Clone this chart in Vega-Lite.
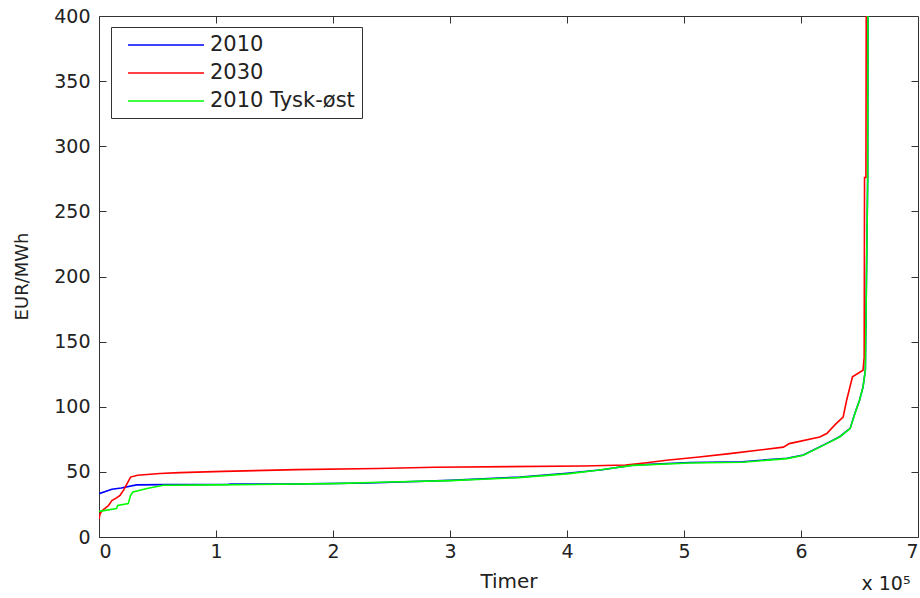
{
  "$schema": "https://vega.github.io/schema/vega-lite/v6.json",
  "width": 819,
  "height": 521,
  "autosize": {"type": "none"},
  "padding": {"left": 99, "top": 16, "right": 2, "bottom": 61},
  "background": "white",
  "config": {
    "font": "DejaVu Sans",
    "view": {"stroke": "#333333", "strokeWidth": 1},
    "axis": {
      "grid": false,
      "domain": false,
      "tickSize": -7,
      "tickColor": "#333333",
      "tickWidth": 1,
      "labelFont": "DejaVu Sans",
      "labelFontSize": 19,
      "labelColor": "#222222",
      "titleFont": "DejaVu Sans",
      "titleFontWeight": "normal",
      "titleColor": "#222222"
    }
  },
  "data": {
    "values": [
      {"series": "2010", "x": 0, "y": 33.3},
      {"series": "2010", "x": 11000, "y": 36.6},
      {"series": "2010", "x": 19000, "y": 37.6},
      {"series": "2010", "x": 32000, "y": 40.0},
      {"series": "2010", "x": 56000, "y": 40.2},
      {"series": "2010", "x": 110000, "y": 40.3},
      {"series": "2010", "x": 112000, "y": 40.7},
      {"series": "2010", "x": 157000, "y": 40.7},
      {"series": "2010", "x": 160000, "y": 40.6},
      {"series": "2010", "x": 230000, "y": 41.5},
      {"series": "2010", "x": 300000, "y": 43.5},
      {"series": "2010", "x": 360000, "y": 46.0},
      {"series": "2010", "x": 400000, "y": 49.0},
      {"series": "2010", "x": 430000, "y": 51.6},
      {"series": "2010", "x": 456000, "y": 55.2},
      {"series": "2010", "x": 505000, "y": 57.2},
      {"series": "2010", "x": 550000, "y": 57.8},
      {"series": "2010", "x": 588000, "y": 60.5},
      {"series": "2010", "x": 602000, "y": 63.0},
      {"series": "2010", "x": 622000, "y": 71.9},
      {"series": "2010", "x": 633000, "y": 77.0},
      {"series": "2010", "x": 642000, "y": 83.4},
      {"series": "2010", "x": 646000, "y": 94.8},
      {"series": "2010", "x": 650000, "y": 105},
      {"series": "2010", "x": 653000, "y": 115},
      {"series": "2010", "x": 655000, "y": 128},
      {"series": "2010", "x": 657000, "y": 276},
      {"series": "2010", "x": 657300, "y": 420},
      {"series": "2030", "x": 0, "y": 14},
      {"series": "2030", "x": 1000, "y": 18},
      {"series": "2030", "x": 3000, "y": 20.5},
      {"series": "2030", "x": 8000, "y": 24},
      {"series": "2030", "x": 11000, "y": 28},
      {"series": "2030", "x": 15000, "y": 30},
      {"series": "2030", "x": 18000, "y": 32},
      {"series": "2030", "x": 21000, "y": 36},
      {"series": "2030", "x": 24000, "y": 41},
      {"series": "2030", "x": 27000, "y": 46},
      {"series": "2030", "x": 33000, "y": 47.4},
      {"series": "2030", "x": 52000, "y": 48.7},
      {"series": "2030", "x": 69000, "y": 49.4},
      {"series": "2030", "x": 106000, "y": 50.4},
      {"series": "2030", "x": 169000, "y": 51.7},
      {"series": "2030", "x": 238000, "y": 52.6},
      {"series": "2030", "x": 287000, "y": 53.5},
      {"series": "2030", "x": 414000, "y": 54.5},
      {"series": "2030", "x": 450000, "y": 55.3},
      {"series": "2030", "x": 468000, "y": 57},
      {"series": "2030", "x": 485000, "y": 58.9},
      {"series": "2030", "x": 513000, "y": 61.4},
      {"series": "2030", "x": 539000, "y": 64},
      {"series": "2030", "x": 585000, "y": 69},
      {"series": "2030", "x": 590000, "y": 71.7},
      {"series": "2030", "x": 616000, "y": 76.8},
      {"series": "2030", "x": 622000, "y": 79.4},
      {"series": "2030", "x": 630000, "y": 87},
      {"series": "2030", "x": 636000, "y": 92},
      {"series": "2030", "x": 639000, "y": 105},
      {"series": "2030", "x": 644000, "y": 123},
      {"series": "2030", "x": 653000, "y": 128},
      {"series": "2030", "x": 654000, "y": 138},
      {"series": "2030", "x": 654300, "y": 276},
      {"series": "2030", "x": 655500, "y": 276},
      {"series": "2030", "x": 655800, "y": 420},
      {"series": "2010 Tysk-øst", "x": 0, "y": 19.7},
      {"series": "2010 Tysk-øst", "x": 15000, "y": 21.8},
      {"series": "2010 Tysk-øst", "x": 16000, "y": 24.3},
      {"series": "2010 Tysk-øst", "x": 25000, "y": 25.6},
      {"series": "2010 Tysk-øst", "x": 27000, "y": 32},
      {"series": "2010 Tysk-øst", "x": 29000, "y": 34.5},
      {"series": "2010 Tysk-øst", "x": 41000, "y": 37.2},
      {"series": "2010 Tysk-øst", "x": 55000, "y": 39.7},
      {"series": "2010 Tysk-øst", "x": 100000, "y": 40.0},
      {"series": "2010 Tysk-øst", "x": 200000, "y": 41.0},
      {"series": "2010 Tysk-øst", "x": 240000, "y": 42.0},
      {"series": "2010 Tysk-øst", "x": 300000, "y": 43.3},
      {"series": "2010 Tysk-øst", "x": 358000, "y": 45.6},
      {"series": "2010 Tysk-øst", "x": 400000, "y": 48.5},
      {"series": "2010 Tysk-øst", "x": 426000, "y": 51.2},
      {"series": "2010 Tysk-øst", "x": 456000, "y": 55.0},
      {"series": "2010 Tysk-øst", "x": 505000, "y": 56.8},
      {"series": "2010 Tysk-øst", "x": 550000, "y": 57.4},
      {"series": "2010 Tysk-øst", "x": 588000, "y": 60.2},
      {"series": "2010 Tysk-øst", "x": 602000, "y": 62.7},
      {"series": "2010 Tysk-øst", "x": 622000, "y": 71.7},
      {"series": "2010 Tysk-øst", "x": 633000, "y": 76.8},
      {"series": "2010 Tysk-øst", "x": 642000, "y": 83.2},
      {"series": "2010 Tysk-øst", "x": 646000, "y": 94.7},
      {"series": "2010 Tysk-øst", "x": 650000, "y": 105},
      {"series": "2010 Tysk-øst", "x": 653000, "y": 115},
      {"series": "2010 Tysk-øst", "x": 655000, "y": 128},
      {"series": "2010 Tysk-øst", "x": 657000, "y": 276},
      {"series": "2010 Tysk-øst", "x": 657300, "y": 420}
    ]
  },
  "resolve": {"axis": {"x": "independent", "y": "independent"}},
  "layer": [
    {
      "transform": [{"filter": "datum.series === '2010'"}],
      "mark": {"type": "line", "strokeWidth": 1.6, "clip": true},
      "encoding": {
        "x": {
          "field": "x", "type": "quantitative",
          "scale": {"domain": [0, 700000], "nice": false, "zero": false},
          "axis": {
            "orient": "bottom",
            "values": [0, 100000, 200000, 300000, 400000, 500000, 600000, 700000],
            "labelExpr": "datum.value / 100000",
            "labelPadding": 12,
            "title": "Timer",
            "titleFontSize": 20,
            "titleBaseline": "alphabetic",
            "titleY": 50
          }
        },
        "y": {
          "field": "y", "type": "quantitative",
          "scale": {"domain": [0, 400], "nice": false},
          "axis": {
            "orient": "left",
            "values": [0, 50, 100, 150, 200, 250, 300, 350, 400],
            "labelPadding": 16,
            "title": "EUR/MWh",
            "titleFontSize": 18,
            "titleBaseline": "alphabetic",
            "titleAngle": -90,
            "titleX": -72,
            "titleY": 260,
            "titleAlign": "center"
          }
        },
        "color": {
          "field": "series", "type": "nominal",
          "scale": {"domain": ["2010", "2030", "2010 Tysk-øst"], "range": ["#0000ff", "#ff0000", "#00ff00"]},
          "legend": {
            "orient": "none",
            "legendX": 12,
            "legendY": 11,
            "title": null,
            "symbolType": "M-0.1,0H7.5",
            "symbolSize": 400,
            "symbolStrokeWidth": 1.6,
            "labelFontSize": 21,
            "labelFont": "DejaVu Sans",
            "labelColor": "#222222",
            "labelOffset": 70,
            "strokeColor": "#333333",
            "fillColor": "white",
            "padding": 7,
            "rowPadding": 7
          }
        }
      }
    },
    {
      "transform": [{"filter": "datum.series === '2030'"}],
      "mark": {"type": "line", "strokeWidth": 1.6, "clip": true},
      "encoding": {
        "x": {"field": "x", "type": "quantitative", "axis": null},
        "y": {"field": "y", "type": "quantitative", "axis": null},
        "color": {"field": "series", "type": "nominal"}
      }
    },
    {
      "transform": [{"filter": "datum.series === '2010 Tysk-øst'"}],
      "mark": {"type": "line", "strokeWidth": 1.6, "clip": true},
      "encoding": {
        "x": {
          "field": "x", "type": "quantitative",
          "axis": {
            "orient": "top",
            "values": [100000, 200000, 300000, 400000, 500000, 600000],
            "labels": false,
            "title": "x 10⁵",
            "titleFontSize": 19,
            "titleAlign": "left",
            "titleBaseline": "alphabetic",
            "titleX": 762,
            "titleY": 573
          }
        },
        "y": {
          "field": "y", "type": "quantitative",
          "axis": {
            "orient": "right",
            "values": [50, 100, 150, 200, 250, 300, 350],
            "labels": false,
            "title": null
          }
        },
        "color": {"field": "series", "type": "nominal"}
      }
    }
  ]
}
